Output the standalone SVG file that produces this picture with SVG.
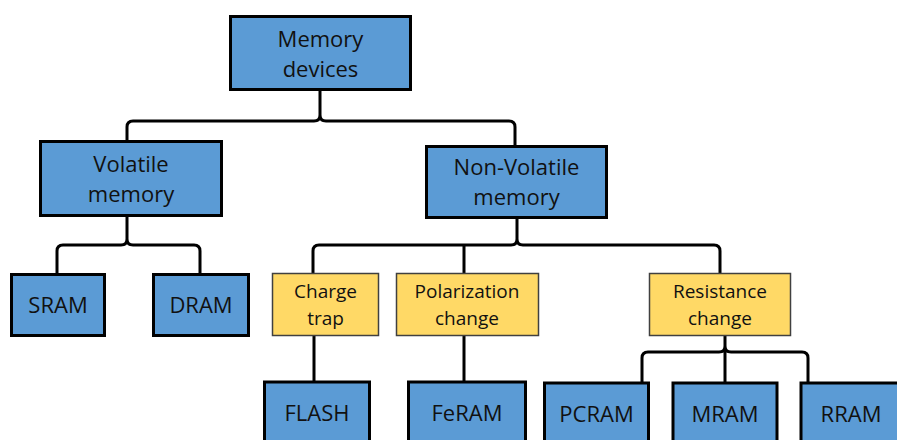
<svg xmlns="http://www.w3.org/2000/svg" width="897" height="440" viewBox="0 0 897 440">
<style>
.blue{fill:#5B9BD5;stroke:#000;stroke-width:3}
.yel{fill:#FFD966;stroke:#404040;stroke-width:1.5}
.conn{fill:none;stroke:#000;stroke-width:3;stroke-linejoin:round}
.t{font-family:"Open Sans","Liberation Sans",sans-serif;font-size:22px;fill:#111;text-anchor:middle}
.ts{font-family:"Open Sans","Liberation Sans",sans-serif;font-size:19px;fill:#111;text-anchor:middle}
</style>
<rect width="897" height="440" fill="#fff"/>
<g id="connectors">
<path class="conn" d="M320,91 L320,115 Q320,121 314,121 L133,121 Q127,121 127,127 L127,140 M320,91 L320,115 Q320,121 326,121 L509,121 Q515,121 515,127 L515,145"/>
<path class="conn" d="M127,217 L127,239 Q127,245 121,245 L63,245 Q57,245 57,251 L57,273 M127,217 L127,239 Q127,245 133,245 L194,245 Q200,245 200,251 L200,273"/>
<path class="conn" d="M517,219 L517,239 Q517,245 511,245 L319,245 Q313,245 313,251 L313,273 M517,219 L517,239 Q517,245 523,245 L714,245 Q720,245 720,251 L720,273 M464,245 L464,273"/>
<path class="conn" d="M314,336 L314,381 M464,336 L464,381"/>
<path class="conn" d="M642,382 L642,358 Q642,352 648,352 L719,352 Q725,352 725,346 L725,336 M808,382 L808,358 Q808,352 802,352 L731,352 Q725,352 725,346 M725,336 L725,382"/>
</g>
<g id="memory-devices"><rect class="blue" x="230.5" y="16.5" width="180" height="73"/><text class="t" x="320.5" y="47">Memory</text><text class="t" x="320.5" y="77">devices</text></g>
<g id="volatile"><rect class="blue" x="40.5" y="141.5" width="181" height="74"/><text class="t" x="131" y="172">Volatile</text><text class="t" x="131" y="202">memory</text></g>
<g id="non-volatile"><rect class="blue" x="426.5" y="146.5" width="180" height="71"/><text class="t" x="516.5" y="175">Non-Volatile</text><text class="t" x="516.5" y="205">memory</text></g>
<g id="sram"><rect class="blue" x="11.5" y="274.5" width="93" height="61"/><text class="t" x="58" y="313">SRAM</text></g>
<g id="dram"><rect class="blue" x="153.5" y="274.5" width="95" height="61"/><text class="t" x="201" y="313">DRAM</text></g>
<g id="charge-trap"><rect class="yel" x="272.5" y="273.5" width="106" height="62"/><text class="ts" x="325.5" y="298">Charge</text><text class="ts" x="325.5" y="325">trap</text></g>
<g id="polarization-change"><rect class="yel" x="396.5" y="273.5" width="142" height="62"/><text class="ts" x="467" y="298">Polarization</text><text class="ts" x="467" y="325">change</text></g>
<g id="resistance-change"><rect class="yel" x="649.5" y="273.5" width="141" height="62"/><text class="ts" x="720" y="298">Resistance</text><text class="ts" x="720" y="325">change</text></g>
<g id="flash"><rect class="blue" x="264.5" y="382" width="105" height="70"/><text class="t" x="317" y="421">FLASH</text></g>
<g id="feram"><rect class="blue" x="408.5" y="382" width="117" height="70"/><text class="t" x="467" y="421">FeRAM</text></g>
<g id="pcram"><rect class="blue" x="544.5" y="383" width="104" height="70"/><text class="t" x="596.5" y="422">PCRAM</text></g>
<g id="mram"><rect class="blue" x="673" y="383" width="104" height="70"/><text class="t" x="725" y="422">MRAM</text></g>
<g id="rram"><rect class="blue" x="801" y="383" width="110" height="70"/><text class="t" x="851" y="422">RRAM</text></g>
</svg>
